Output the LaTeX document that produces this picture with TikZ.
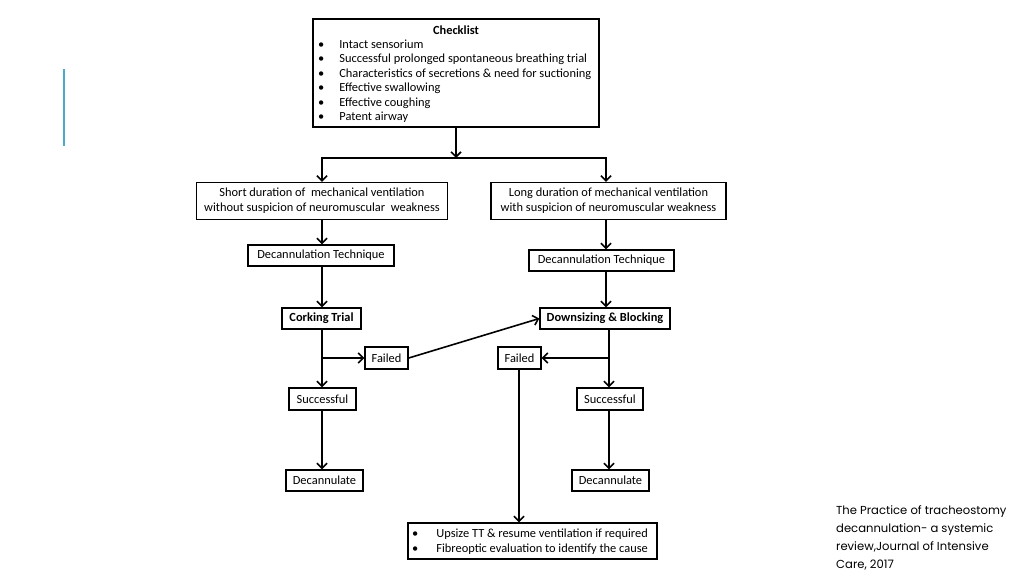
\documentclass[tikz,border=0pt]{standalone}
\usepackage{fontspec}
\setmainfont{Carlito}
\newfontfamily\citefont{Poppins}
\usetikzlibrary{arrows.meta}
\definecolor{accent}{RGB}{75,172,198}
\begin{document}
\begin{tikzpicture}[x=1pt,y=-1pt,
  box/.style={draw, line width=1.4pt, inner sep=0pt, align=center, font=\fontsize{12.4}{15}\selectfont},
  bbox/.style={box, font=\fontsize{12.4}{15}\selectfont\bfseries},
  arr/.style={line width=1.6pt, -{Straight Barb[length=5pt,width=10pt,line width=1.6pt]}},
  ln/.style={line width=1.6pt}]
\useasboundingbox (0,0) rectangle (1024,576);
\draw[accent, line width=2pt] (64,69) -- (64,146);
% checklist
\node[box, minimum width=286, minimum height=108] (check) at (456,73) {};
\node[font=\fontsize{12.4}{14}\selectfont\bfseries] (ctitle) at (456,30) {Checklist};
\node[anchor=north west, inner sep=0pt, font=\fontsize{12.4}{14.5}\selectfont] (clist) at (318,38)
 {\begin{tabular}{@{}l@{\hspace{15pt}}l@{}}
 \textbullet & Intact sensorium\\
 \textbullet & Successful prolonged spontaneous breathing trial\\
 \textbullet & Characteristics of secretions \& need for suctioning\\
 \textbullet & Effective swallowing\\
 \textbullet & Effective coughing\\
 \textbullet & Patent airway
 \end{tabular}};
\coordinate (j) at (456,158);
\coordinate (lc) at (322,0);
\coordinate (rc) at (606,0);
\coordinate (rc2) at (609,0);
\coordinate (fc) at (519,0);
\node[box, minimum width=251, minimum height=37] (short) at (322,201) {Short duration of \ mechanical ventilation\\without suspicion of neuromuscular \ weakness};
\node[box, minimum width=235, minimum height=37] (long) at (608.5,201) {Long duration of mechanical ventilation\\with suspicion of neuromuscular weakness};
\node[box, minimum width=146, minimum height=21] (decL) at (321,255.5) {Decannulation Technique};
\node[box, minimum width=145, minimum height=21] (decR) at (601.5,260.5) {Decannulation Technique};
\node[bbox, minimum width=79, minimum height=21] (cork) at (321.5,318.5) {Corking Trial};
\node[bbox, minimum width=130, minimum height=21] (down) at (605,318.5) {Downsizing \& Blocking};
\node[box, minimum width=43, minimum height=22] (failL) at (386.5,358) {Failed};
\node[box, minimum width=43, minimum height=22] (failR) at (519.5,358) {Failed};
\node[box, minimum width=67, minimum height=22] (succL) at (322.5,399) {Successful};
\node[box, minimum width=66, minimum height=22] (succR) at (610,399) {Successful};
\node[box, minimum width=77, minimum height=21] (decanL) at (324.5,480.5) {Decannulate};
\node[box, minimum width=77, minimum height=21] (decanR) at (610.5,480.5) {Decannulate};
\node[box, minimum width=249, minimum height=36] (bottom) at (532.5,541) {};
\node[anchor=west, inner sep=0pt, font=\fontsize{12.4}{14.5}\selectfont] (blist) at (412,542)
 {\begin{tabular}{@{}l@{\hspace{18pt}}l@{}}
 \textbullet & Upsize TT \& resume ventilation if required\\
 \textbullet & Fibreoptic evaluation to identify the cause
 \end{tabular}};
% connectors
\draw[arr] (check) -- (j);
\draw[arr] (j) -| (short.north -| lc);
\draw[arr] (j) -| (long.north -| rc);
\draw[arr] (short.south -| lc) -- (decL.north -| lc);
\draw[arr] (decL.south -| lc) -- (cork.north -| lc);
\draw[arr] (cork.south -| lc) -- (succL.north -| lc);
\draw[arr] (lc |- failL) -- (failL.west);
\draw[arr] (succL.south -| lc) -- (decanL.north -| lc);
\draw[arr] (long.south -| rc) -- (decR.north -| rc);
\draw[arr] (decR.south -| rc) -- (down.north -| rc);
\draw[arr] (failL.east) -- (down.west);
\draw[arr] (down.south -| rc2) -- (succR.north -| rc2);
\draw[arr] (rc2 |- failR) -- (failR.east);
\draw[arr] (succR.south -| rc2) -- (decanR.north -| rc2);
\draw[arr] (failR.south -| fc) -- (bottom.north -| fc);
% citation
\node[anchor=north west, inner sep=0pt, align=left, font=\citefont\fontsize{11.6}{18}\selectfont] (cite) at (836,505)
 {The Practice of tracheostomy\\decannulation- a systemic\\review,Journal of Intensive\\Care, 2017};
\end{tikzpicture}
\end{document}
